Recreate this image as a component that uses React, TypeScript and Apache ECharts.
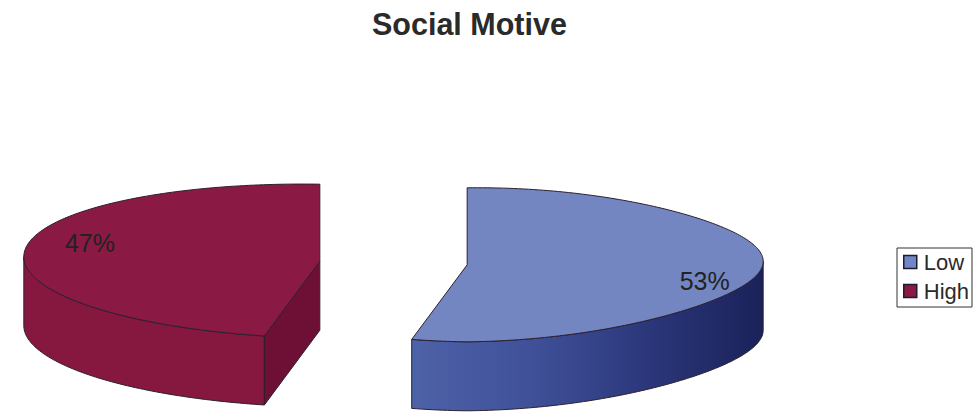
import React, { useEffect, useRef } from "react";
import * as echarts from "echarts";

const categories = ["Low", "High"];
const shares = [53, 47];
const topColors = ["#7386c2", "#8a1a44"];
const swatchColors = ["#6f86c9", "#8a1a44"];

// Pie projection: an ellipse with an extruded rim, slices pushed apart along their mid-angle.
const CENTER_X = 393.5;
const CENTER_Y = 263;
const RADIUS_X = 296;
const RADIUS_Y = 77;
const DEPTH = 69;
const EXPLODE = 74;
const LABEL_LIFT = 3;

// Per-slice perspective: how far the rim rises at its sides and how much it narrows there.
const rimLift = [3.5, 4.5];
const rimSqueeze = [0.15, 0];
const labelRadius = [0.806, 0.78];

const total = shares.reduce((a, b) => a + b, 0);
const RAD = Math.PI / 180;

function arcPoints(cx: number, cy: number, from: number, to: number, index: number) {
  const pts: number[][] = [];
  const steps = Math.max(2, Math.ceil(Math.abs(to - from)));
  for (let i = 0; i <= steps; i++) {
    const a = (from + ((to - from) * i) / steps) * RAD;
    const s = Math.sin(a);
    const narrowed = Math.cos(a) * (1 - rimSqueeze[index] * s * s);
    pts.push([
      cx + RADIUS_X * s,
      cy - RADIUS_Y * narrowed - rimLift[index] * Math.abs(s),
    ]);
  }
  return pts;
}

const sideFills = [
  {
    type: "linear",
    x: 0,
    y: 0,
    x2: 1,
    y2: 0,
    colorStops: [
      { offset: 0, color: "#4e62a8" },
      { offset: 0.35, color: "#3f5098" },
      { offset: 0.7, color: "#2a3578" },
      { offset: 1, color: "#1a2259" },
    ],
  },
  "#86183f",
];
const cutFills = ["#2a3578", "#6e1036"];

function renderSlice(index: number) {
  return (_params: unknown, api: any) => {
    const value = api.value(0) as number;
    const before = shares.slice(0, index).reduce((a, b) => a + b, 0);
    const start = (before / total) * 360;
    const end = start + (value / total) * 360;
    const mid = (start + end) / 2;
    const cx = CENTER_X + EXPLODE * Math.sin(mid * RAD);
    const cy = CENTER_Y - (EXPLODE * Math.cos(mid * RAD) * RADIUS_Y) / RADIUS_X;
    const line = { stroke: "#2b2030", lineWidth: 1 };
    const children: any[] = [];

    // Outer rim: the part of the arc that faces the viewer.
    const rimFrom = Math.max(start, 90);
    const rimTo = Math.min(end, 270);
    if (rimTo > rimFrom) {
      const upper = arcPoints(cx, cy, rimFrom, rimTo, index);
      const lower = upper.map(([x, y]) => [x, y + DEPTH]).reverse();
      children.push({
        type: "polygon",
        shape: { points: upper.concat(lower) },
        style: { fill: sideFills[index], ...line },
      });
    }

    // Cut face on the leading edge, when it turns toward the viewer.
    if (Math.cos((start - 90) * RAD) < -0.01) {
      const [rimX, rimY] = arcPoints(cx, cy, start, start + 1, index)[0];
      children.push({
        type: "polygon",
        shape: {
          points: [
            [cx, cy],
            [rimX, rimY],
            [rimX, rimY + DEPTH],
            [cx, cy + DEPTH],
          ],
        },
        style: { fill: cutFills[index], ...line },
      });
    }

    // Top face.
    children.push({
      type: "polygon",
      shape: { points: [[cx, cy], ...arcPoints(cx, cy, start, end, index)] },
      style: { fill: topColors[index], ...line },
    });

    // Percentage label.
    children.push({
      type: "text",
      style: {
        text: `${value}%`,
        x: cx + RADIUS_X * labelRadius[index] * Math.sin(mid * RAD),
        y:
          cy -
          RADIUS_Y * labelRadius[index] * LABEL_LIFT * Math.cos(mid * RAD) -
          1.5,
        align: "center",
        verticalAlign: "middle",
        fill: "#222222",
        font: '25px "Liberation Sans", Arial, sans-serif',
      },
    });

    return { type: "group", children };
  };
}

export default function App() {
  const ref = useRef<HTMLDivElement>(null);

  useEffect(() => {
    const chart = echarts.init(ref.current!, null, { renderer: "svg" });
    chart.setOption({
      animation: false,
      backgroundColor: "#ffffff",
      title: {
        text: "Social Motive",
        left: 367,
        top: 3,
        textStyle: {
          fontFamily: '"Liberation Sans", Arial, sans-serif',
          fontWeight: "bold",
          fontSize: 30.5,
          color: "#2a2a2a",
        },
      },
      legend: {
        data: categories,
        orient: "vertical",
        left: 897,
        top: 248,
        padding: [3, 3, 5, 6],
        itemWidth: 13,
        itemHeight: 13,
        itemGap: 7,
        icon: "rect",
        borderColor: "#333333",
        borderWidth: 1,
        backgroundColor: "#ffffff",
        selectedMode: false,
        itemStyle: { borderColor: "#1c1c2c", borderWidth: 1.5 },
        textStyle: {
          fontFamily: '"Liberation Sans", Arial, sans-serif',
          fontSize: 22,
          color: "#2a2a2a",
          padding: [0, 0, 0, 2],
        },
      },
      series: categories.map((name, i) => ({
        type: "custom",
        name,
        coordinateSystem: "none",
        itemStyle: { color: swatchColors[i] },
        data: [[shares[i]]],
        renderItem: renderSlice(i),
      })),
    });
    return () => chart.dispose();
  }, []);

  return (
    <div
      ref={ref}
      style={{ position: "absolute", left: 0, top: 0, width: 977, height: 417 }}
    />
  );
}
